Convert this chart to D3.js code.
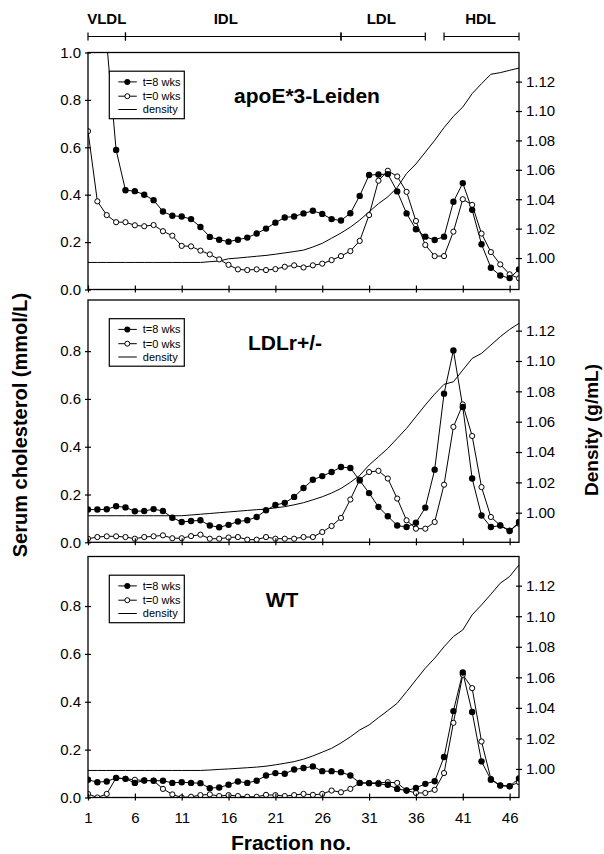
<!DOCTYPE html>
<html>
<head>
<meta charset="utf-8">
<script src="https://cdn.jsdelivr.net/npm/d3@7"></script>
<style>
body { margin: 0; background: #fff; }
text { font-family: "Liberation Sans", Arial, sans-serif; fill: #000; }
</style>
</head>
<body>
<svg id="canvas"></svg>
<script>
const width = 604
const height = 854

// fraction numbers 1..47
const fractions = d3.range(1, 48)
const xTicks = [1, 6, 11, 16, 21, 26, 31, 36, 41, 46]
const leftTicks = [0, 0.2, 0.4, 0.6, 0.8, 1.0]
const rightTicks = [1.00, 1.02, 1.04, 1.06, 1.08, 1.10, 1.12]

// lipoprotein classes along the top (fraction ranges)
const classNames = ['VLDL', 'IDL', 'LDL', 'HDL']
const classStart = [1, 5, 28, 39]
const classEnd = [5, 28, 37, 47]
const classLabelAt = [3, 15.7, 32.3, 42.9]

const panelTitles = ['apoE*3-Leiden', 'LDLr+/-', 'WT']
const legendNames = ['t=8 wks', 't=0 wks', 'density']

// serum cholesterol (mmol/L), t = 8 weeks
const apoeT8 = [1.9, 1.5, 1.04, 0.589, 0.419, 0.415, 0.400, 0.377, 0.329, 0.311,
  0.308, 0.297, 0.264, 0.222, 0.210, 0.202, 0.210, 0.219, 0.236, 0.257,
  0.282, 0.304, 0.308, 0.321, 0.332, 0.319, 0.297, 0.291, 0.322, 0.395,
  0.483, 0.485, 0.487, 0.414, 0.321, 0.254, 0.223, 0.209, 0.223, 0.370,
  0.449, 0.336, 0.191, 0.092, 0.059, 0.048, 0.085]
// t = 0 weeks
const apoeT0 = [0.668, 0.372, 0.314, 0.284, 0.284, 0.271, 0.267, 0.272, 0.246, 0.227,
  0.184, 0.182, 0.164, 0.148, 0.127, 0.104, 0.085, 0.082, 0.085, 0.082,
  0.086, 0.096, 0.102, 0.093, 0.102, 0.109, 0.124, 0.141, 0.162, 0.205,
  0.314, 0.459, 0.501, 0.477, 0.412, 0.289, 0.188, 0.141, 0.141, 0.244,
  0.381, 0.357, 0.236, 0.158, 0.106, 0.064, 0.047]
const apoeDensity = [0.997, 0.997, 0.997, 0.997, 0.997, 0.997, 0.997, 0.997, 0.997, 0.997,
  0.997, 0.997, 0.997, 0.9975, 0.998, 0.9995, 1.000, 1.0006, 1.0012, 1.0018,
  1.0026, 1.0035, 1.0044, 1.0054, 1.0075, 1.010, 1.0135, 1.017, 1.021, 1.0258,
  1.0314, 1.037, 1.0416, 1.048, 1.0575, 1.064, 1.072, 1.080, 1.0887, 1.0964,
  1.1027, 1.1118, 1.1186, 1.125, 1.1261, 1.1277, 1.1292]

const ldlT8 = [0.137, 0.137, 0.138, 0.151, 0.146, 0.130, 0.131, 0.139, 0.131, 0.103,
  0.085, 0.089, 0.092, 0.070, 0.063, 0.073, 0.087, 0.092, 0.106, 0.134,
  0.156, 0.165, 0.190, 0.227, 0.262, 0.277, 0.294, 0.315, 0.311, 0.259,
  0.206, 0.148, 0.109, 0.070, 0.064, 0.082, 0.145, 0.304, 0.622, 0.803,
  0.566, 0.267, 0.112, 0.064, 0.070, 0.047, 0.085]
const ldlT0 = [0.015, 0.022, 0.025, 0.025, 0.022, 0.015, 0.022, 0.025, 0.029, 0.017,
  0.017, 0.026, 0.032, 0.015, 0.015, 0.020, 0.022, 0.011, 0.011, 0.022,
  0.015, 0.015, 0.015, 0.022, 0.022, 0.043, 0.068, 0.102, 0.179, 0.262,
  0.294, 0.299, 0.267, 0.183, 0.092, 0.057, 0.057, 0.085, 0.241, 0.483,
  0.577, 0.445, 0.231, 0.106, 0.071, 0.049, 0.078]
const ldlDensity = [0.998, 0.998, 0.998, 0.998, 0.998, 0.998, 0.998, 0.998, 0.998, 0.998,
  0.998, 0.9985, 0.999, 0.9995, 1.000, 1.0005, 1.001, 1.0015, 1.002, 1.0024,
  1.0032, 1.004, 1.0052, 1.0066, 1.0085, 1.0105, 1.013, 1.016, 1.020, 1.0246,
  1.0314, 1.0369, 1.0424, 1.049, 1.0556, 1.0633, 1.071, 1.0782, 1.0846, 1.0863,
  1.094, 1.1017, 1.105, 1.1105, 1.116, 1.1208, 1.1248]

const wtT8 = [0.074, 0.064, 0.067, 0.082, 0.078, 0.061, 0.071, 0.070, 0.070, 0.061,
  0.064, 0.061, 0.060, 0.039, 0.042, 0.053, 0.067, 0.061, 0.070, 0.092,
  0.102, 0.099, 0.117, 0.123, 0.130, 0.110, 0.110, 0.106, 0.092, 0.061,
  0.060, 0.057, 0.053, 0.036, 0.029, 0.040, 0.057, 0.068, 0.169, 0.361,
  0.522, 0.357, 0.151, 0.074, 0.050, 0.047, 0.080]
const wtT0 = [0.015, 0.000, 0.015, 0.082, 0.078, 0.074, 0.071, 0.070, 0.036, 0.013,
  0.000, 0.003, 0.010, 0.013, 0.006, 0.010, 0.006, 0.003, 0.003, 0.011,
  0.010, 0.006, 0.010, 0.015, 0.011, 0.015, 0.029, 0.022, 0.036, 0.061,
  0.061, 0.061, 0.064, 0.061, 0.029, 0.019, 0.019, 0.032, 0.102, 0.312,
  0.513, 0.457, 0.234, 0.078, 0.050, 0.047, 0.064]
const wtDensity = [0.999, 0.999, 0.999, 0.999, 0.999, 0.999, 0.999, 0.999, 0.999, 0.999,
  0.999, 0.999, 0.999, 0.9993, 0.9997, 1.000, 1.0004, 1.0008, 1.0012, 1.0018,
  1.0027, 1.0037, 1.0048, 1.0064, 1.0085, 1.011, 1.0135, 1.017, 1.021, 1.0255,
  1.0288, 1.0336, 1.0382, 1.043, 1.0506, 1.0583, 1.066, 1.0725, 1.080, 1.0867,
  1.091, 1.1009, 1.1074, 1.1144, 1.1216, 1.126, 1.1336]

const left = 88
const right = 519

// panel layout (pixel boxes) and axis domains
const panels = [
  { title: panelTitles[0], t8: apoeT8, t0: apoeT0, dens: apoeDensity, top: 52.5, bottom: 289.5, yMax: 1.0, dMin: 0.9786, dMax: 1.1398, titleX: 307, showOne: true },
  { title: panelTitles[1], t8: ldlT8, t0: ldlT0, dens: ldlDensity, top: 300, bottom: 542.3, yMax: 1.014, dMin: 0.9805, dMax: 1.1402, titleX: 285, showOne: false },
  { title: panelTitles[2], t8: wtT8, t0: wtT0, dens: wtDensity, top: 556.5, bottom: 797.5, yMax: 1.007, dMin: 0.9813, dMax: 1.1391, titleX: 282, showOne: false }
]

let canvas = d3.select('#canvas')
  .attr('width', width)
  .attr('height', height)

let xScale = d3.scaleLinear().domain([1, 47]).range([left, right])

// class brackets at the top
let bracketY = 36.5
let brackets = canvas.append('g')
classNames.forEach((name, i) => {
  let x1 = xScale(classStart[i])
  let x2 = xScale(classEnd[i])
  brackets.append('line').attr('x1', x1).attr('x2', x2).attr('y1', bracketY).attr('y2', bracketY)
    .attr('stroke', '#000').attr('stroke-width', 1.2)
  ;[x1, x2].forEach(x => {
    brackets.append('line').attr('x1', x).attr('x2', x).attr('y1', bracketY - 4).attr('y2', bracketY + 4)
      .attr('stroke', '#000').attr('stroke-width', 1.2)
  })
  brackets.append('text')
    .attr('x', xScale(classLabelAt[i]))
    .attr('y', 24)
    .attr('text-anchor', 'middle')
    .style('font-size', '15px')
    .style('font-weight', 'bold')
    .text(name)
})

panels.forEach((p, idx) => {
  let yScale = d3.scaleLinear().domain([0, p.yMax]).range([p.bottom, p.top])
  let dScale = d3.scaleLinear().domain([p.dMin, p.dMax]).range([p.bottom, p.top])
  let g = canvas.append('g')

  let clipId = 'clip' + idx
  g.append('clipPath').attr('id', clipId)
    .append('rect').attr('x', left).attr('y', p.top).attr('width', right - left).attr('height', p.bottom - p.top)

  let plot = g.append('g').attr('clip-path', 'url(#' + clipId + ')')

  let line = d3.line().x((d, i) => xScale(fractions[i])).y(d => yScale(d))
  let dLine = d3.line().x((d, i) => xScale(fractions[i])).y(d => dScale(d))

  plot.append('path').attr('d', dLine(p.dens)).attr('fill', 'none').attr('stroke', '#000').attr('stroke-width', 1)
  plot.append('path').attr('d', line(p.t0)).attr('fill', 'none').attr('stroke', '#000').attr('stroke-width', 1)
  plot.append('path').attr('d', line(p.t8)).attr('fill', 'none').attr('stroke', '#000').attr('stroke-width', 1)

  plot.selectAll('.open')
    .data(p.t0)
    .enter()
    .append('circle')
    .attr('cx', (d, i) => xScale(fractions[i]))
    .attr('cy', d => yScale(d))
    .attr('r', 2.6)
    .attr('fill', '#fff')
    .attr('stroke', '#000')
    .attr('stroke-width', 1)

  plot.selectAll('.filled')
    .data(p.t8)
    .enter()
    .append('circle')
    .attr('cx', (d, i) => xScale(fractions[i]))
    .attr('cy', d => yScale(d))
    .attr('r', 3.2)
    .attr('fill', '#000')

  // frame
  g.append('rect').attr('x', left).attr('y', p.top).attr('width', right - left).attr('height', p.bottom - p.top)
    .attr('fill', 'none').attr('stroke', '#000').attr('stroke-width', 1.3)

  // left axis
  let lt = p.showOne ? leftTicks : leftTicks.slice(0, 5)
  let leftAxis = d3.axisLeft(yScale).tickValues(lt).tickFormat(d3.format('.1f')).tickSize(3).tickPadding(4)
  let la = g.append('g').attr('transform', 'translate(' + left + ',0)').call(leftAxis)
  la.select('.domain').remove()
  la.selectAll('.tick line').attr('x2', -3).attr('x1', 3).attr('stroke-width', 1.2)
  la.selectAll('text').style('font-size', '15px')

  // right axis
  let rightAxis = d3.axisRight(dScale).tickValues(rightTicks).tickFormat(d3.format('.2f')).tickSize(3).tickPadding(4)
  let ra = g.append('g').attr('transform', 'translate(' + right + ',0)').call(rightAxis)
  ra.select('.domain').remove()
  ra.selectAll('.tick line').attr('x1', -3).attr('stroke-width', 1.2)
  ra.selectAll('text').style('font-size', '15px')

  // bottom axis
  let bottomAxis = d3.axisBottom(xScale).tickValues(xTicks).tickSize(3).tickPadding(12)
  if (idx < 2) bottomAxis.tickFormat('')
  let ba = g.append('g').attr('transform', 'translate(0,' + p.bottom + ')').call(bottomAxis)
  ba.select('.domain').remove()
  ba.selectAll('.tick line').attr('y1', -4).attr('stroke-width', 1.2)
  ba.selectAll('text').style('font-size', '15px')

  // legend
  let lx = left + 21.3
  let ly = p.top + 18.7
  let lg = g.append('g').attr('transform', 'translate(' + lx + ',' + ly + ')')
  lg.append('rect').attr('width', 75).attr('height', 47.5).attr('fill', '#fff').attr('stroke', '#000').attr('stroke-width', 1.2)
  let rows = [10.7, 25, 38.3]
  legendNames.forEach((name, i) => {
    lg.append('line').attr('x1', 9).attr('x2', 27.5).attr('y1', rows[i]).attr('y2', rows[i])
      .attr('stroke', '#000').attr('stroke-width', 1)
    if (i === 0) lg.append('circle').attr('cx', 18).attr('cy', rows[i]).attr('r', 3).attr('fill', '#000')
    if (i === 1) lg.append('circle').attr('cx', 18).attr('cy', rows[i]).attr('r', 2.5).attr('fill', '#fff').attr('stroke', '#000')
    lg.append('text').attr('x', 33.5).attr('y', rows[i] + 4).style('font-size', '11px').text(name)
  })

  // panel title
  g.append('text')
    .attr('x', p.titleX)
    .attr('y', p.top + 50)
    .attr('text-anchor', 'middle')
    .style('font-size', '21px')
    .style('font-weight', 'bold')
    .text(p.title)
})

// axis titles
canvas.append('text')
  .attr('transform', 'translate(27,425) rotate(-90)')
  .attr('text-anchor', 'middle')
  .style('font-size', '20px')
  .style('font-weight', 'bold')
  .text('Serum cholesterol (mmol/L)')

canvas.append('text')
  .attr('transform', 'translate(598,430) rotate(-90)')
  .attr('text-anchor', 'middle')
  .style('font-size', '19px')
  .style('font-weight', 'bold')
  .text('Density (g/mL)')

canvas.append('text')
  .attr('x', 291)
  .attr('y', 850)
  .attr('text-anchor', 'middle')
  .style('font-size', '21px')
  .style('font-weight', 'bold')
  .text('Fraction no.')
</script>
</body>
</html>
